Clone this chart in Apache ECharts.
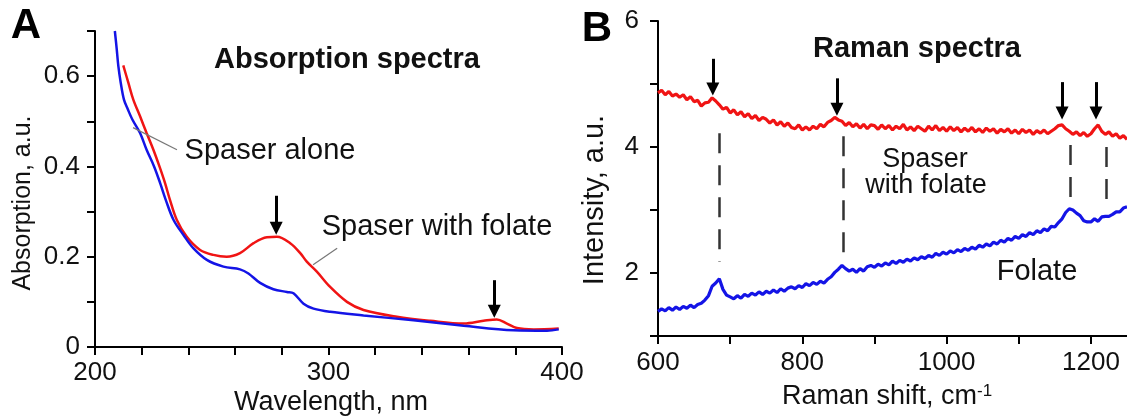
<!DOCTYPE html>
<html>
<head>
<meta charset="utf-8">
<script src="https://cdn.jsdelivr.net/npm/echarts@6/dist/echarts.min.js"></script>
<style>
  html, body { margin: 0; padding: 0; background: #fff; }
  #chart { width: 1127px; height: 420px; }
</style>
</head>
<body>
<div id="chart"></div>
<script>
// ---- Panel A: absorption spectra ----
const alonWavelength = [208.5, 209.3, 210, 211, 212.4, 214.1, 216, 219.3, 222.1, 225.3, 227.9, 230.3, 233.6, 237.9, 242.1, 247.9, 255, 262.1, 265.7, 270.7, 276.4, 282.2, 285, 289.3, 293.6, 300.7, 315, 336.4, 357.9, 379.3, 393.6, 398.6];
const aloneAbs = [0.70, 0.66, 0.622, 0.586, 0.548, 0.526, 0.504, 0.474, 0.437, 0.40, 0.363, 0.326, 0.282, 0.248, 0.219, 0.193, 0.178, 0.172, 0.163, 0.142, 0.128, 0.122, 0.119, 0.096, 0.085, 0.078, 0.070, 0.059, 0.047, 0.037, 0.036, 0.039];

const folateWavelength = [212.1, 214.3, 216.4, 219.3, 222.1, 225, 227.6, 230, 232.1, 235, 239.3, 245, 250.7, 256.4, 262.1, 267.9, 273.6, 277.9, 283.6, 287.9, 290.7, 295, 300.7, 307.9, 315, 329.3, 343.6, 357.9, 366.4, 372.1, 376.4, 380.7, 387.9, 398.6];
const folateAbs = [0.624, 0.585, 0.548, 0.511, 0.474, 0.437, 0.40, 0.363, 0.326, 0.282, 0.244, 0.215, 0.204, 0.200, 0.208, 0.230, 0.243, 0.244, 0.230, 0.208, 0.189, 0.167, 0.133, 0.100, 0.082, 0.067, 0.058, 0.052, 0.058, 0.061, 0.052, 0.042, 0.039, 0.041];

// peaks marked with arrows in panel A: [wavelength, arrow top, arrow tip]
const absPeakWl = [277.6, 371];
const absArrowTop = [0.335, 0.148];
const absArrowTip = [0.263, 0.079];

// ---- Panel B: Raman spectra ----
const ramanShift = [600, 605, 610, 615, 620, 625, 630, 635, 640, 645, 650, 655, 660, 665, 670, 675, 680, 685, 690, 695,
  700, 705, 710, 715, 720, 725, 730, 735, 740, 745, 750, 755, 760, 765, 770, 775, 780, 785, 790, 795,
  800, 805, 810, 815, 820, 825, 830, 835, 840, 845, 850, 855, 860, 865, 870, 875, 880, 885, 890, 895,
  900, 905, 910, 915, 920, 925, 930, 935, 940, 945, 950, 955, 960, 965, 970, 975, 980, 985, 990, 995,
  1000, 1005, 1010, 1015, 1020, 1025, 1030, 1035, 1040, 1045, 1050, 1055, 1060, 1065, 1070, 1075, 1080, 1085, 1090, 1095,
  1100, 1105, 1110, 1115, 1120, 1125, 1130, 1135, 1140, 1145, 1150, 1155, 1160, 1165, 1170, 1175, 1180, 1185, 1190, 1195,
  1200, 1205, 1210, 1215, 1220, 1225, 1230, 1235, 1240, 1245, 1250];

const spaserFolateIntensity = [4.86, 4.90, 4.83, 4.88, 4.81, 4.84, 4.79, 4.83, 4.75, 4.80, 4.72, 4.74, 4.65, 4.70, 4.71, 4.78, 4.73, 4.67, 4.60, 4.63,
  4.54, 4.59, 4.51, 4.56, 4.48, 4.53, 4.45, 4.50, 4.42, 4.47, 4.44, 4.38, 4.43, 4.35, 4.40, 4.33, 4.38, 4.31, 4.29, 4.35,
  4.27, 4.32, 4.27, 4.33, 4.29, 4.36, 4.32, 4.39, 4.42, 4.47, 4.43, 4.41, 4.34, 4.39, 4.32, 4.37, 4.30, 4.36, 4.29, 4.35,
  4.34, 4.28, 4.35, 4.29, 4.34, 4.27, 4.33, 4.29, 4.36, 4.27, 4.32, 4.26, 4.33, 4.29, 4.25, 4.33, 4.27, 4.34, 4.26, 4.31,
  4.25, 4.32, 4.26, 4.31, 4.24, 4.30, 4.25, 4.31, 4.24, 4.29, 4.23, 4.30, 4.25, 4.29, 4.22, 4.28, 4.24, 4.29, 4.22, 4.27,
  4.21, 4.28, 4.23, 4.27, 4.20, 4.26, 4.22, 4.27, 4.21, 4.25, 4.29, 4.34, 4.35, 4.29, 4.25, 4.20, 4.24, 4.18, 4.23, 4.17,
  4.21, 4.29, 4.35, 4.25, 4.20, 4.24, 4.17, 4.21, 4.14, 4.18, 4.12];

const folateIntensity = [1.39, 1.43, 1.40, 1.45, 1.41, 1.46, 1.42, 1.47, 1.44, 1.49, 1.45, 1.50, 1.52, 1.57, 1.64, 1.79, 1.84, 1.91, 1.74, 1.65,
  1.62, 1.59, 1.64, 1.60, 1.66, 1.63, 1.68, 1.65, 1.70, 1.66, 1.71, 1.68, 1.73, 1.69, 1.75, 1.71, 1.76, 1.78, 1.75, 1.80,
  1.77, 1.83, 1.80, 1.85, 1.82, 1.87, 1.84, 1.90, 1.94, 2.01, 2.06, 2.12, 2.07, 2.03, 2.06, 2.01, 2.07, 2.03, 2.10, 2.12,
  2.09, 2.14, 2.11, 2.16, 2.13, 2.19, 2.15, 2.20, 2.17, 2.22, 2.19, 2.24, 2.21, 2.26, 2.23, 2.28, 2.25, 2.31, 2.28, 2.33,
  2.30, 2.35, 2.32, 2.37, 2.34, 2.39, 2.36, 2.41, 2.38, 2.44, 2.41, 2.46, 2.43, 2.49, 2.46, 2.52, 2.49, 2.55, 2.52, 2.58,
  2.55, 2.61, 2.58, 2.64, 2.61, 2.67, 2.64, 2.70, 2.67, 2.74, 2.73, 2.80, 2.86, 2.96, 3.02, 3.00, 2.95, 2.91, 2.83, 2.81,
  2.81, 2.86, 2.82, 2.89, 2.90, 2.90, 2.93, 2.97, 2.97, 3.03, 3.05];

// arrows over the Raman peaks
const ramanPeakShift = [676, 848, 1160, 1207];
const ramanArrowTop = [5.40, 5.09, 5.03, 5.03];
const ramanArrowTip = [4.92, 4.60, 4.54, 4.54];

// dashed guides linking matching bands in the two spectra
const guideShift = [685, 857, 1172, 1221];
const guideTop = [4.22, 4.17, 4.03, 4.00];
const guideBottom = [2.18, 2.32, 3.08, 3.13];

const RED = '#f01414';
const BLUE = '#1414e6';
const FONT = '"Liberation Sans", Arial, sans-serif';

const zip = (xs, ys) => xs.map((x, i) => [x, ys[i]]);

const axisCommon = {
  axisLine: { show: true, onZero: false, lineStyle: { color: '#000', width: 2 } },
  axisTick: { show: true, inside: false, length: 8, lineStyle: { color: '#000', width: 2 } },
  splitLine: { show: false },
  axisLabel: { color: '#111', fontSize: 26, fontFamily: FONT, showMinLabel: true, showMaxLabel: true }
};

function arrowLines(xs, tops, tips) {
  return xs.map((x, i) => [{ coord: [x, tops[i]] }, { coord: [x, tips[i]] }]);
}

const arrowMark = (data) => ({
  silent: true,
  animation: false,
  symbol: ['none', 'triangle'],
  symbolSize: [13, 13],
  label: { show: false },
  emphasis: { disabled: true },
  lineStyle: { color: '#000', width: 3, type: 'solid' },
  itemStyle: { color: '#000' },
  data: data
});

const leaderMark = (data) => ({
  silent: true, animation: false, symbol: ['none', 'none'],
  label: { show: false }, emphasis: { disabled: true },
  lineStyle: { color: '#777', width: 1.2, type: 'solid' },
  data: data
});

const text = (x, y, str, font, extra) => Object.assign({
  type: 'text', x: x, y: y,
  style: { text: str, font: font, fill: '#111', align: 'center', verticalAlign: 'middle' }
}, extra || {});

const option = {
  animation: false,
  backgroundColor: '#fff',
  grid: [
    { left: 95, top: 31, width: 467, height: 316, containLabel: false, outerBoundsMode: 'none' },
    { left: 658, top: 21, width: 469, height: 315, containLabel: false, outerBoundsMode: 'none' }
  ],
  xAxis: [
    Object.assign({}, axisCommon, {
      type: 'value', gridIndex: 0, min: 200, max: 400, interval: 20,
      axisLabel: Object.assign({}, axisCommon.axisLabel, {
        margin: 13,
        formatter: v => (Math.round(v) % 100 === 0 ? String(Math.round(v)) : '')
      })
    }),
    Object.assign({}, axisCommon, {
      type: 'value', gridIndex: 1, min: 600, max: 1250, interval: 100,
      axisLabel: Object.assign({}, axisCommon.axisLabel, {
        margin: 14, showMaxLabel: false,
        formatter: v => (Math.round(v) % 200 === 0 ? String(Math.round(v)) : '')
      })
    })
  ],
  yAxis: [
    Object.assign({}, axisCommon, {
      type: 'value', gridIndex: 0, min: 0, max: 0.7, interval: 0.1,
      axisLabel: Object.assign({}, axisCommon.axisLabel, {
        margin: 15,
        formatter: v => {
          const k = Math.round(v * 10);
          if (k % 2) return '';
          return k === 0 ? '0' : (k / 10).toFixed(1);
        }
      })
    }),
    Object.assign({}, axisCommon, {
      type: 'value', gridIndex: 1, min: 1, max: 6, interval: 1,
      axisLabel: Object.assign({}, axisCommon.axisLabel, {
        margin: 19,
        formatter: v => (Math.round(v) % 2 === 0 ? String(Math.round(v)) : '')
      })
    })
  ],
  series: [
    {
      name: 'Spaser alone', type: 'line', xAxisIndex: 0, yAxisIndex: 0,
      data: zip(alonWavelength, aloneAbs), showSymbol: false, smooth: 0.35,
      lineStyle: { color: BLUE, width: 2.5 }, itemStyle: { color: BLUE },
      markLine: leaderMark([[{ coord: [216.3, 0.486] }, { coord: [235.1, 0.437] }]]),
      z: 3
    },
    {
      name: 'Spaser with folate', type: 'line', xAxisIndex: 0, yAxisIndex: 0,
      data: zip(folateWavelength, folateAbs), showSymbol: false, smooth: 0.35,
      lineStyle: { color: RED, width: 2.5 }, itemStyle: { color: RED },
      markLine: arrowMark(arrowLines(absPeakWl, absArrowTop, absArrowTip)),
      z: 2
    },
    {
      name: 'Spaser with folate leader', type: 'line', xAxisIndex: 0, yAxisIndex: 0,
      data: [], showSymbol: false,
      markLine: leaderMark([[{ coord: [293.4, 0.182] }, { coord: [303.7, 0.219] }]])
    },
    {
      name: 'Spaser with folate (Raman)', type: 'line', xAxisIndex: 1, yAxisIndex: 1,
      data: zip(ramanShift, spaserFolateIntensity), showSymbol: false,
      lineStyle: { color: RED, width: 3.2 }, itemStyle: { color: RED },
      markLine: arrowMark(arrowLines(ramanPeakShift, ramanArrowTop, ramanArrowTip))
    },
    {
      name: 'Folate', type: 'line', xAxisIndex: 1, yAxisIndex: 1,
      data: zip(ramanShift, folateIntensity), showSymbol: false,
      lineStyle: { color: BLUE, width: 3.2 }, itemStyle: { color: BLUE },
      markLine: {
        silent: true, animation: false, symbol: ['none', 'none'],
        label: { show: false }, emphasis: { disabled: true },
        lineStyle: { color: '#333', width: 2.5, type: [20, 12] },
        data: guideShift.map((x, i) => [{ coord: [x, guideTop[i]] }, { coord: [x, guideBottom[i]] }])
      }
    }
  ],
  graphic: [
    text(26, 26, 'A', 'bold 42px ' + FONT, { style: { text: 'A', font: 'bold 42px ' + FONT, fill: '#000', align: 'center', verticalAlign: 'middle' } }),
    text(597, 29, 'B', 'bold 42px ' + FONT, { style: { text: 'B', font: 'bold 42px ' + FONT, fill: '#000', align: 'center', verticalAlign: 'middle' } }),
    text(347, 60, 'Absorption spectra', 'bold 29px ' + FONT),
    text(917, 49, 'Raman spectra', 'bold 29px ' + FONT),
    text(270, 151, 'Spaser alone', '29px ' + FONT),
    text(437, 227, 'Spaser with folate', '29px ' + FONT),
    text(925, 160, 'Spaser', '27px ' + FONT),
    text(926, 186, 'with folate', '27px ' + FONT),
    text(1037, 272, 'Folate', '29px ' + FONT),
    text(331, 403, 'Wavelength, nm', '27px ' + FONT),
    text(23, 203, 'Absorption, a.u.', '25px ' + FONT, { rotation: Math.PI / 2 }),
    text(595, 200, 'Intensity, a.u.', '29px ' + FONT, { rotation: Math.PI / 2 }),
    {
      type: 'text', x: 887, y: 397,
      style: {
        text: 'Raman shift, cm{sup|-1}',
        font: '27px ' + FONT, fill: '#111', align: 'center', verticalAlign: 'middle',
        rich: { sup: { fontSize: 17, fontFamily: FONT, fill: '#111', padding: [0, 0, 12, 0] } }
      }
    }
  ]
};

const chart = echarts.init(document.getElementById('chart'), null, { renderer: 'canvas' });
chart.setOption(option);
</script>
</body>
</html>
